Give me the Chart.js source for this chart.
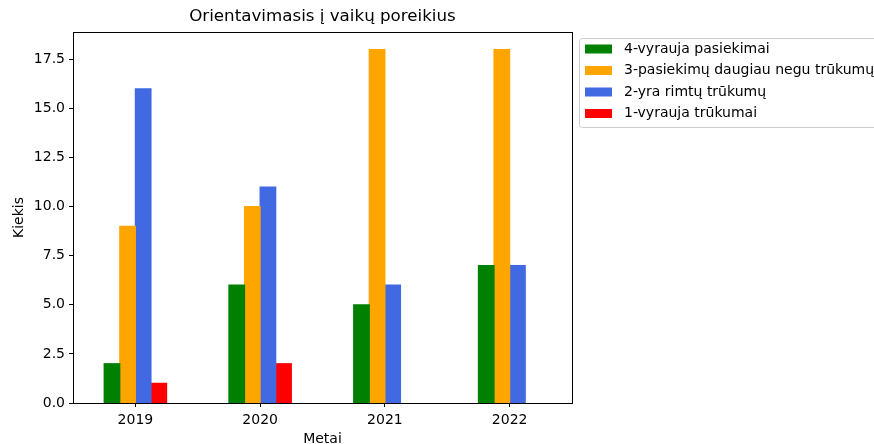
<!DOCTYPE html>
<html>
<head>
<meta charset="utf-8">
<script src="https://cdn.jsdelivr.net/npm/chart.js@4/dist/chart.umd.min.js"></script>
<style>
  body { margin: 0; background: #fff; }
  canvas { display: block; }
</style>
</head>
<body>
<canvas id="chart" width="874" height="444"></canvas>
<script>
// Data
const years = ["2019", "2020", "2021", "2022"];
const seriesNames = [
  "4-vyrauja pasiekimai",
  "3-pasiekimų daugiau negu trūkumų",
  "2-yra rimtų trūkumų",
  "1-vyrauja trūkumai",
];
const achievements = [2, 6, 5, 7];
const moreAchievements = [9, 10, 18, 18];
const seriousGaps = [16, 11, 6, 7];
const gapsDominate = [1, 2, 0, 0];
const seriesColors = ["#008000", "#ffa500", "#4169e1", "#ff0000"];
const yTicks = [0, 2.5, 5, 7.5, 10, 12.5, 15, 17.5];

const FONT = "'DejaVu Sans', sans-serif";

// frame, title and legend drawn around the plot (matplotlib style)
const decorations = {
  id: "decorations",
  afterDatasetsDraw(chart) {
    const { ctx, chartArea: a } = chart;
    ctx.save();
    ctx.strokeStyle = "#000";
    ctx.lineWidth = 1;
    ctx.strokeRect(Math.round(a.left) + 0.5, Math.round(a.top) + 0.5,
      Math.round(a.right - a.left), Math.round(a.bottom - a.top));

    // title
    ctx.fillStyle = "#000";
    ctx.font = "16.7px " + FONT;
    ctx.textAlign = "center";
    ctx.textBaseline = "middle";
    ctx.fillText("Orientavimasis į vaikų poreikius", (a.left + a.right) / 2, 17);

    // legend
    const lx = 579, ly = 38, lw = 310, lh = 89;
    ctx.strokeStyle = "#cccccc";
    ctx.fillStyle = "rgba(255,255,255,0.8)";
    ctx.beginPath();
    ctx.roundRect(lx + 0.5, ly + 0.5, lw, lh, 3);
    ctx.fill();
    ctx.stroke();
    ctx.font = "14px " + FONT;
    ctx.textAlign = "left";
    chart.data.datasets.forEach((ds, i) => {
      const cy = 49 + i * 21.5;
      ctx.fillStyle = ds.backgroundColor;
      ctx.fillRect(585, cy - 4.5, 27, 9);
      ctx.fillStyle = "#000";
      ctx.fillText(ds.label, 624, cy);
    });
    ctx.restore();
  },
};

const ctx = document.getElementById("chart").getContext("2d");
const values = [achievements, moreAchievements, seriousGaps, gapsDominate];

new Chart(ctx, {
  type: "bar",
  data: {
    labels: years,
    datasets: values.map((v, i) => ({
      label: seriesNames[i],
      data: v,
      backgroundColor: seriesColors[i],
      borderWidth: 0,
      inflateAmount: (c) => (c.raw === 0 ? 0 : 0.6),
      categoryPercentage: 0.5,
      barPercentage: 1.0,
    })),
  },
  options: {
    responsive: false,
    animation: false,
    layout: { padding: { left: 0, right: 302, top: 32, bottom: 0 } },
    plugins: {
      legend: { display: false },
      title: { display: false },
      tooltip: { enabled: false },
    },
    scales: {
      x: {
        offset: true,
        grid: { display: true, drawOnChartArea: false, tickLength: 4, tickColor: "#000", offset: false },
        border: { display: false },
        ticks: { color: "#000", font: { family: FONT, size: 14 }, padding: 5 },
        title: {
          display: true,
          text: "Metai",
          color: "#000",
          font: { family: FONT, size: 14 },
          padding: { top: 0, bottom: -4 },
        },
        afterFit(scale) { scale.height = 41; },
      },
      y: {
        min: 0,
        max: 18.9,
        grid: { display: true, drawOnChartArea: false, tickLength: 4, tickColor: "#000" },
        border: { display: false },
        ticks: {
          color: "#000",
          font: { family: FONT, size: 14 },
          padding: 4,
          includeBounds: false,
          callback: (v) => v.toFixed(1),
        },
        afterBuildTicks(scale) {
          scale.ticks = yTicks.map((v) => ({ value: v }));
        },
        title: {
          display: true,
          text: "Kiekis",
          color: "#000",
          font: { family: FONT, size: 14 },
          padding: { top: 11, bottom: 0 },
        },
        afterFit(scale) { scale.width = 73; },
      },
    },
  },
  plugins: [decorations],
});
</script>
</body>
</html>
